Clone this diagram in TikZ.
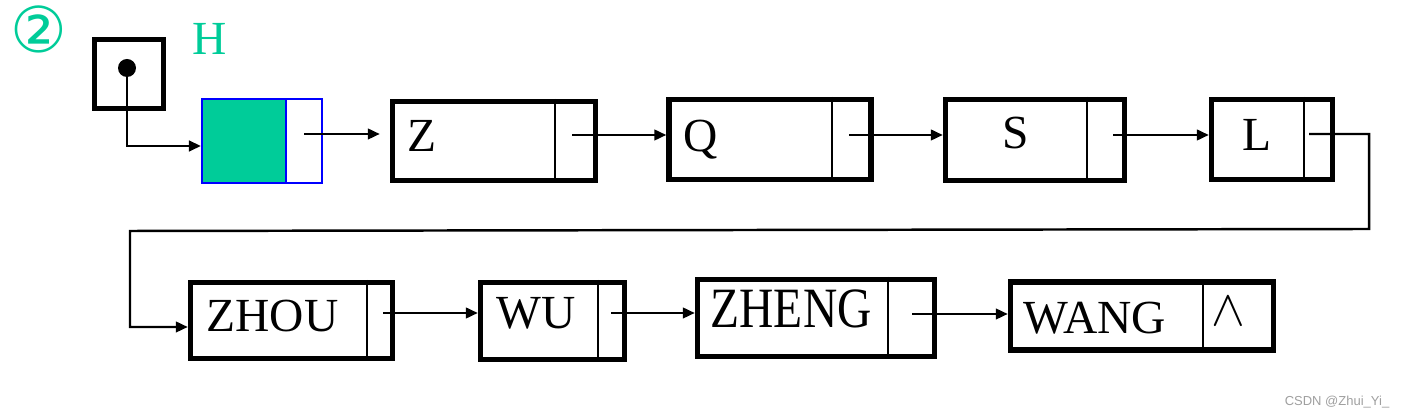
\documentclass[tikz,border=0pt]{standalone}
\usepackage{fontspec}
\setmainfont{Liberation Serif}
\setsansfont{Liberation Sans}
\newfontfamily\circfont{DejaVu Sans}
\usetikzlibrary{arrows.meta}
\definecolor{hteal}{RGB}{0,204,153}

\tikzset{
  cellbox/.style={draw, line width=1.5pt, inner sep=0pt},
  divider/.style={line width=0.6pt},
  link/.style={line width=0.7pt, -{Triangle[length=3.4pt,width=3pt]}},
  word/.style={font=\fontsize{13.5}{13.5}\selectfont, inner sep=0pt},
}

\begin{document}
\begin{tikzpicture}[x=0.01cm, y=-0.01cm]
  \useasboundingbox (0,0) rectangle (1403,416);

  % label and head pointer
  \node[text=hteal, font=\circfont\fontsize{18}{18}\selectfont, inner sep=0pt] (num) at (39,29) {②};
  \node[word, text=hteal] (hlabel) at (210,39) {H};
  \node[cellbox, minimum width=0.69cm, minimum height=0.69cm] (head) at (129,74) {};
  \coordinate (hdot) at (127,68);
  \fill (hdot) circle (9);

  % head node
  \node[draw=blue, fill=hteal, line width=0.6pt, inner sep=0pt, minimum width=0.84cm, minimum height=0.84cm] (hn) at (244,141) {};
  \node[draw=blue, line width=0.6pt, inner sep=0pt, minimum width=0.36cm, minimum height=0.84cm] (hp) at (304,141) {};

  % upper row
  \node[cellbox, minimum width=2.03cm, minimum height=0.79cm] (z) at (494,141) {};
  \draw[divider] (z.north -| 555,0) -- (z.south -| 555,0);
  \node[word, anchor=base west] (zt) at (407,152) {Z};
  \node[cellbox, minimum width=2.02cm, minimum height=0.80cm] (q) at (770,139.5) {};
  \draw[divider] (q.north -| 832,0) -- (q.south -| 832,0);
  \node[word, anchor=base west] (qt) at (683,152) {Q};
  \node[cellbox, minimum width=1.79cm, minimum height=0.81cm] (s) at (1035,140) {};
  \draw[divider] (s.north -| 1087,0) -- (s.south -| 1087,0);
  \node[word, anchor=base] (st) at (1016,149) {S};
  \node[cellbox, minimum width=1.21cm, minimum height=0.80cm] (l) at (1272,139.5) {};
  \draw[divider] (l.north -| 1304,0) -- (l.south -| 1304,0);
  \node[word, anchor=base] (lt) at (1257,151) {L};

  % lower row
  \node[cellbox, minimum width=2.02cm, minimum height=0.76cm] (zhou) at (291.5,320.5) {};
  \draw[divider] (zhou.north -| 367,0) -- (zhou.south -| 367,0);
  \node[word, anchor=base west] (zhout) at (206,332) {ZHOU};
  \node[cellbox, minimum width=1.44cm, minimum height=0.77cm] (wu) at (552.5,321) {};
  \draw[divider] (wu.north -| 598,0) -- (wu.south -| 598,0);
  \node[word, anchor=base] (wut) at (536,329) {WU};
  \node[cellbox, minimum width=2.37cm, minimum height=0.77cm] (zheng) at (816,318) {};
  \draw[divider] (zheng.north -| 888,0) -- (zheng.south -| 888,0);
  \node[word, anchor=base west] (zhengt) at (710,328) {\scalebox{1}[1.2]{ZHENG}};
  \node[cellbox, minimum width=2.63cm, minimum height=0.68cm] (wang) at (1142,316) {};
  \draw[divider] (wang.north -| 1203,0) -- (wang.south -| 1203,0);
  \node[word, anchor=base west] (wangt) at (1023,334) {WANG};
  \node[word] (nil) at (1228,311) {$\wedge$};

  % pointers
  \coordinate (zp) at (572,135);
  \coordinate (qp) at (849,135);
  \coordinate (sp) at (1113,135);
  \coordinate (lp) at (1309,134);
  \coordinate (zhoup) at (383,313);
  \coordinate (wup) at (611,313);
  \coordinate (zhengp) at (912,314);
  \coordinate (wrap) at (1369,229);
  \coordinate (turn) at (130,231);

  \draw[link] (hdot) |- (hn.west |- 0,146);
  \draw[link, shorten >=0.1cm] (hp.center |- 0,134) -- (z.west |- 0,134);
  \draw[link] (zp) -- (zp -| q.west);
  \draw[link] (qp) -- (qp -| s.west);
  \draw[link] (sp) -- (sp -| l.west);
  \draw[link] (lp) -| (wrap) -- (turn) |- (zhou.west |- 0,327);
  \draw[link] (zhoup) -- (zhoup -| wu.west);
  \draw[link] (wup) -- (wup -| zheng.west);
  \draw[link] (zhengp) -- (zhengp -| wang.west);

  \node[text=gray!75, font=\sffamily\fontsize{3.7}{4}\selectfont, anchor=east, inner sep=0pt] (mark) at (1390,402) {CSDN @Zhui\_Yi\_};
\end{tikzpicture}
\end{document}
